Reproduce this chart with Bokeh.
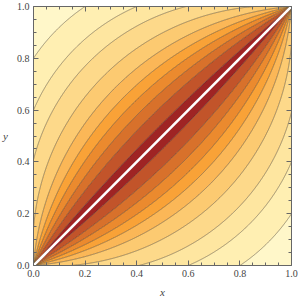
import numpy as np
from bokeh.plotting import figure
from bokeh.models import LinearAxis, Range1d, FixedTicker
from bokeh.embed import file_html
from bokeh.resources import INLINE

# --- data -----------------------------------------------------------------
SEG_START = (0.0, 0.0)          # end points of the segment whose subtended angle is plotted
SEG_END = (1.0, 1.0)
LEVELS_DEG = [89.99, 101.3, 111.8, 120.6, 130.6, 139.4, 146.6, 153.0, 159.6, 166.3, 174.3, 180.01]
BAND_COLORS = ["#fff7c9", "#ffefb2", "#fee6a0", "#fdd98a", "#fcca71", "#fbb757",
               "#f9a237", "#eb8a2e", "#d8712b", "#c2542a", "#9f2424"]
MAJOR_TICKS = [0.0, 0.2, 0.4, 0.6, 0.8, 1.0]
MINOR_TICKS = [0.05, 0.1, 0.15, 0.25, 0.3, 0.35, 0.45, 0.5, 0.55, 0.65, 0.7, 0.75, 0.85, 0.9, 0.95]
TICK_LABELS = ["0.0", "0.2", "0.4", "0.6", "0.8", "1.0"]
X_LABEL = "x"
Y_LABEL = "y"

# --- field ----------------------------------------------------------------
n = 500
xs = np.linspace(0.0, 1.0, n)
ys = np.linspace(0.0, 1.0, n)
X, Y = np.meshgrid(xs, ys)
ax_, ay_ = SEG_START
bx_, by_ = SEG_END
pax, pay = ax_ - X, ay_ - Y
pbx, pby = bx_ - X, by_ - Y
with np.errstate(invalid="ignore", divide="ignore"):
    c = (pax * pbx + pay * pby) / (np.hypot(pax, pay) * np.hypot(pbx, pby))
c = np.nan_to_num(c, nan=-1.0)
Z = np.degrees(np.arccos(np.clip(c, -1.0, 1.0)))

# --- figure ---------------------------------------------------------------
p = figure(width=300, height=300, x_range=Range1d(0, 1), y_range=Range1d(0, 1),
           output_backend="svg", toolbar_location=None,
           min_border_left=32, min_border_right=9, min_border_top=6, min_border_bottom=34,
           x_axis_location=None, y_axis_location=None)
p.grid.visible = False
p.outline_line_color = None
p.background_fill_color = "white"

p.contour(x=xs, y=ys, z=Z, levels=LEVELS_DEG, fill_color=BAND_COLORS,
          line_color="#3a3020", line_alpha=0.45, line_width=1)

p.line(x=[SEG_START[0], SEG_END[0]], y=[SEG_START[1], SEG_END[1]],
       line_color="white", line_width=2.6)

ticker = FixedTicker(ticks=MAJOR_TICKS, minor_ticks=MINOR_TICKS)

def make_axis(show_labels):
    a = LinearAxis(ticker=ticker)
    a.axis_line_color = "#666666"
    a.major_tick_line_color = "#666666"
    a.minor_tick_line_color = "#666666"
    a.major_tick_in = 5
    a.major_tick_out = 0
    a.minor_tick_in = 3
    a.minor_tick_out = 0
    if show_labels:
        a.major_label_overrides = {t: lab for t, lab in zip(MAJOR_TICKS, TICK_LABELS)}
        a.major_label_text_font = "Liberation Serif"
        a.major_label_text_font_size = "10px"
        a.major_label_text_color = "#444444"
        a.major_label_standoff = 4
    else:
        a.major_label_overrides = {t: "" for t in MAJOR_TICKS}
        a.major_label_standoff = 0
    a.axis_label_text_font = "Liberation Serif"
    a.axis_label_text_font_style = "italic"
    a.axis_label_text_font_size = "11px"
    a.axis_label_text_color = "#444444"
    return a

bottom = make_axis(True)
bottom.axis_label = X_LABEL
bottom.axis_label_standoff = 6
left = make_axis(True)
left.axis_label = Y_LABEL
left.axis_label_standoff = 6
left.axis_label_orientation = "horizontal"
top = make_axis(False)
right = make_axis(False)
p.add_layout(bottom, "below")
p.add_layout(left, "left")
p.add_layout(top, "above")
p.add_layout(right, "right")

open("out.html", "w").write(file_html(p, INLINE))
